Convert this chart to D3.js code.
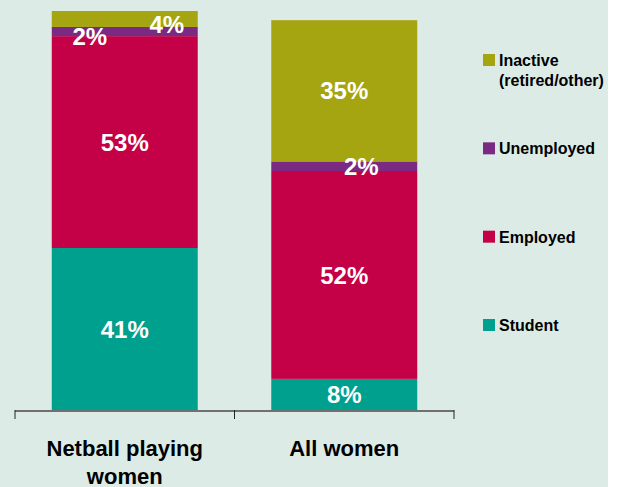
<!DOCTYPE html>
<html>
<head>
<meta charset="utf-8">
<script src="https://cdn.jsdelivr.net/npm/d3@7"></script>
<style>
  body { margin: 0; background: #ffffff; }
  svg { display: block; }
</style>
</head>
<body>
<svg id="chart"></svg>
<script>
var groups = ["Netball playing women", "All women"];
var groupLines = [["Netball playing", "women"], ["All women"]];
var statuses = ["Student", "Employed", "Unemployed", "Inactive"];
var legendNames = [["Student"], ["Employed"], ["Unemployed"], ["Inactive", "(retired/other)"]];
var netballValues = [40.6, 53.1, 2.3, 4.0];
var allWomenValues = [7.8, 52.1, 2.4, 35.4];
var colours = ["#00a08e", "#c40046", "#7b2a83", "#a4a511"];

var width = 626, height = 487;

var svg = d3.select("#chart")
    .attr("width", width)
    .attr("height", height);

svg.append("rect")
    .attr("width", 608)
    .attr("height", height)
    .attr("fill", "#dcebe6");

var x = d3.scaleBand()
    .domain(groups)
    .range([15, 454])
    .paddingInner(0.335)
    .paddingOuter(0.1675);

var y = d3.scaleLinear()
    .domain([0, 100])
    .range([410, 11]);

var colour = d3.scaleOrdinal()
    .domain(statuses)
    .range(colours);

var rows = groups.map(function(g, i) {
    var vals = i === 0 ? netballValues : allWomenValues;
    var row = { group: g };
    statuses.forEach(function(s, j) { row[s] = vals[j]; });
    return row;
});

var series = d3.stack().keys(statuses)(rows);

// small labels need nudging so they don't sit on top of each other
var nudge = {
    "Netball playing women|Unemployed": [-35, 5],
    "Netball playing women|Inactive": [42, 5],
    "All women|Unemployed": [17, 0]
};

var layer = svg.append("g")
    .selectAll("g")
    .data(series)
    .enter()
    .append("g")
    .attr("fill", function(d) { return colour(d.key); });

layer.selectAll("rect")
    .data(function(d) { return d; })
    .enter()
    .append("rect")
    .attr("x", function(d) { return x(d.data.group); })
    .attr("y", function(d) { return y(d[1]); })
    .attr("width", x.bandwidth())
    .attr("height", function(d) { return y(d[0]) - y(d[1]); });

var fmt = d3.format(".0f");

series.forEach(function(s) {
    s.forEach(function(d) {
        var n = nudge[d.data.group + "|" + s.key] || [0, 0];
        svg.append("text")
            .attr("x", x(d.data.group) + x.bandwidth() / 2 + n[0])
            .attr("y", (y(d[0]) + y(d[1])) / 2 + n[1])
            .attr("dy", "0.36em")
            .attr("text-anchor", "middle")
            .style("font", "bold 24px 'Liberation Sans', Arial, sans-serif")
            .attr("fill", "#ffffff")
            .text(fmt(d[1] - d[0]) + "%");
    });
});

// axis
svg.append("line")
    .attr("x1", 15).attr("x2", 454)
    .attr("y1", 411).attr("y2", 411)
    .attr("stroke", "#707070")
    .attr("stroke-width", 2);

var tickXs = [15, 15 + x.step(), 454];
svg.selectAll(".tick")
    .data(tickXs)
    .enter()
    .append("line")
    .attr("x1", function(d) { return d; })
    .attr("x2", function(d) { return d; })
    .attr("y1", 410).attr("y2", 419)
    .attr("stroke", "#222")
    .attr("stroke-width", 1);

groups.forEach(function(g, i) {
    var t = svg.append("text")
        .attr("text-anchor", "middle")
        .style("font", "bold 22px 'Liberation Sans', Arial, sans-serif")
        .attr("fill", "#000");
    groupLines[i].forEach(function(line, k) {
        t.append("tspan")
            .attr("x", x(g) + x.bandwidth() / 2)
            .attr("y", 456 + k * 28)
            .text(line);
    });
});

// legend, top to bottom
var legendY = d3.scalePoint()
    .domain(statuses.slice().reverse())
    .range([60, 325]);

statuses.forEach(function(s, i) {
    var cy = legendY(s);
    svg.append("rect")
        .attr("x", 483)
        .attr("y", cy - 6)
        .attr("width", 12)
        .attr("height", 12)
        .attr("fill", colour(s));
    var t = svg.append("text")
        .style("font", "bold 16px 'Liberation Sans', Arial, sans-serif")
        .attr("fill", "#000");
    legendNames[i].forEach(function(line, k) {
        t.append("tspan")
            .attr("x", 499)
            .attr("y", cy + 6 + k * 20)
            .text(line);
    });
});
</script>
</body>
</html>
